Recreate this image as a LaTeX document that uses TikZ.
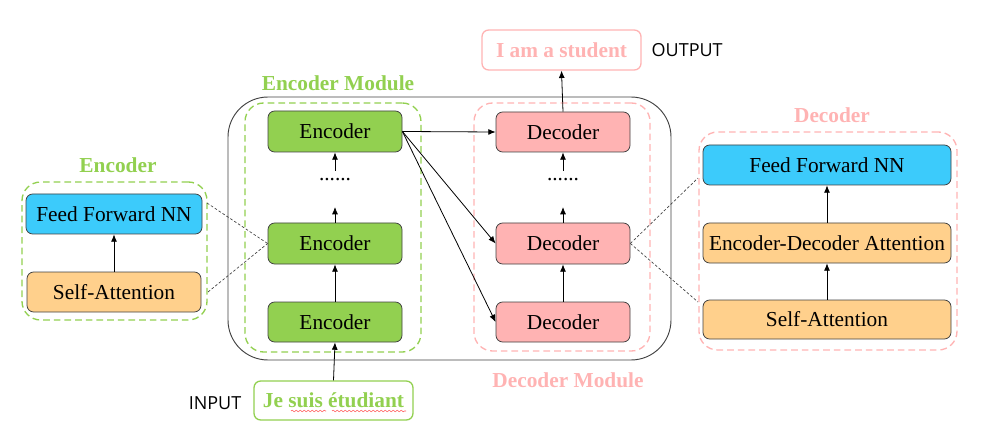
\documentclass[tikz,border=0pt]{standalone}
\usepackage{fontspec}
\setmainfont{Liberation Serif}
\newfontfamily\labfont{Open Sans}
\usetikzlibrary{fit,arrows.meta,decorations.pathmorphing}
\definecolor{encgreen}{HTML}{92D050}
\definecolor{decpink}{HTML}{FFB3B3}
\definecolor{ffblue}{HTML}{3CCBFB}
\definecolor{attorange}{HTML}{FFD08C}
\definecolor{edgegray}{HTML}{404040}
\tikzset{
  box/.style={draw=edgegray, line width=0.6pt, rounded corners=5pt, inner sep=0pt},
  boxtext/.style={font=\fontsize{16}{18}\selectfont, text=black, inner sep=0pt},
  encbox/.style={box, fill=encgreen},
  decbox/.style={box, fill=decpink},
  ffbox/.style={box, fill=ffblue},
  attbox/.style={box, fill=attorange},
  grpgreen/.style={draw=encgreen, dashed, dash pattern=on 5pt off 3pt, line width=1pt, rounded corners=14pt, inner sep=0pt},
  grppink/.style={draw=decpink, dashed, dash pattern=on 5pt off 3pt, line width=1pt, rounded corners=14pt, inner sep=0pt},
  title/.style={font=\fontsize{16}{18}\selectfont\bfseries},
  arr/.style={-{Latex[length=5.5pt,width=4.5pt]}, line width=0.6pt, draw=black},
  link/.style={draw=edgegray, dashed, dash pattern=on 2pt off 1.5pt, line width=0.5pt},
}
\begin{document}
\begin{tikzpicture}[x=0.75pt,y=-0.75pt]
\useasboundingbox (0,0) rectangle (1000,442);

% left encoder detail
\node[grpgreen, fit={(22,182)(207,320)}] (lgrp) {};
\node[title, text=encgreen] (ltitle) at (118,165) {Encoder};
\node[ffbox, fit={(26,194)(202,234)}, label={[boxtext]center:Feed Forward NN}] (lff) {};
\node[attbox, fit={(27,272)(201,312)}, label={[boxtext]center:Self-Attention}] (lsa) {};
\draw[arr] (lsa.north) -- (lff.south);

% outer box
\node[draw=edgegray, line width=0.7pt, rounded corners=30pt, inner sep=0pt, fit={(228,97)(671,360)}] (outer) {};

% encoder module
\node[grpgreen, fit={(245,103)(421,352)}] (encmod) {};
\node[title, text=encgreen] (enctitle) at (338,83) {Encoder Module};
\node[encbox, fit={(268,111)(402,152)}, label={[boxtext]center:Encoder}] (e3) {};
\node[encbox, fit={(268,223)(402,264)}, label={[boxtext]center:Encoder}] (e2) {};
\node[encbox, fit={(268,302)(402,342)}, label={[boxtext]center:Encoder}] (e1) {};
\node[font=\fontsize{16}{18}\selectfont] (edots) at (335,180) {......};
\coordinate (ea) at (335,207);
\coordinate (eb) at (335,171);
\draw[arr] (e1.north) -- (e2.south);
\draw[arr] (e2.north) -- (ea);
\draw[arr] (eb) -- (e3.south);

% decoder module
\node[grppink, fit={(474,103)(650,351)}] (decmod) {};
\node[title, text=decpink] (dectitle) at (568,380) {Decoder Module};
\node[decbox, fit={(496,112)(630,152)}, label={[boxtext]center:Decoder}] (d3) {};
\node[decbox, fit={(496,223)(630,264)}, label={[boxtext]center:Decoder}] (d2) {};
\node[decbox, fit={(496,302)(630,342)}, label={[boxtext]center:Decoder}] (d1) {};
\node[font=\fontsize{16}{18}\selectfont] (ddots) at (563,180) {......};
\coordinate (da) at (563,207);
\coordinate (db) at (563,171);
\draw[arr] (d1.north) -- (d2.south);
\draw[arr] (d2.north) -- (da);
\draw[arr] (db) -- (d3.south);

% encoder to decoder
\draw[arr] (e3.east) -- (d3.west);
\draw[arr] (e3.east) -- (d2.west);
\draw[arr] (e3.east) -- (d1.west);

% output
\node[draw=decpink, line width=1pt, rounded corners=5pt, inner sep=0pt, fit={(482,30)(641,70)},
  label={[font=\fontsize{16}{18}\selectfont\bfseries, text=decpink, inner sep=0pt]center:I am a student}] (out) {};
\node[font=\labfont\fontsize{13.5}{15}\selectfont, anchor=west] (outlab) at (647,50) {OUTPUT};
\draw[arr] (d3.north) -- (out.south);

% input
\node[draw=encgreen, line width=1pt, rounded corners=5pt, inner sep=0pt, fit={(254,381)(413,420)},
  label={[font=\fontsize{16}{18}\selectfont\bfseries, text=encgreen, inner sep=0pt]center:Je suis étudiant}] (in) {};
\node[font=\labfont\fontsize{13.5}{15}\selectfont, anchor=east] (inlab) at (246,403) {INPUT};
\draw[arr] (in.north) -- (e1.south);
\draw[red!70, line width=0.4pt, decorate, decoration={snake, amplitude=0.6pt, segment length=3pt}] (291,411) -- (326,411);
\draw[red!70, line width=0.4pt, decorate, decoration={snake, amplitude=0.6pt, segment length=3pt}] (332,411) -- (406,411);

% right decoder detail
\node[grppink, fit={(699,132)(957,350)}] (rgrp) {};
\node[title, text=decpink] (rtitle) at (832,115) {Decoder};
\node[ffbox, fit={(703,145)(951,185)}, label={[boxtext]center:Feed Forward NN}] (rff) {};
\node[attbox, fit={(703,223)(951,263)}, label={[boxtext]center:Encoder-Decoder Attention}] (red) {};
\node[attbox, fit={(703,300)(951,339)}, label={[boxtext]center:Self-Attention}] (rsa) {};
\draw[arr] (rsa.north) -- (red.south);
\draw[arr] (red.north) -- (rff.south);

% detail links
\coordinate (l1) at (207,203);
\coordinate (l2) at (208,292);
\draw[link] (l1) -- (e2.west);
\draw[link] (l2) -- (e2.west);
\coordinate (r1) at (698,178);
\coordinate (r2) at (698,302);
\draw[link] (d2.east) -- (r1);
\draw[link] (d2.east) -- (r2);
\end{tikzpicture}
\end{document}
